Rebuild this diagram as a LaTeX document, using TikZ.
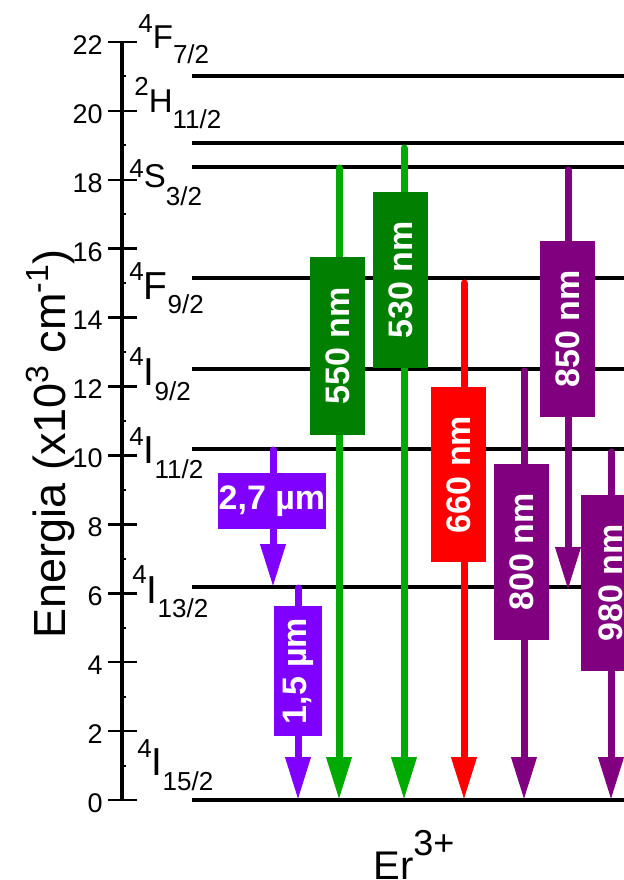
\documentclass[tikz,border=0pt]{standalone}
\usepackage{fontspec}
\setmainfont{Liberation Sans}
\usetikzlibrary{arrows.meta}
\definecolor{violetc}{HTML}{8000FF}
\definecolor{greenl}{HTML}{00AA00}
\definecolor{greenb}{HTML}{007F00}
\definecolor{redc}{HTML}{FF0000}
\definecolor{purplec}{HTML}{800080}
\newcommand{\fs}[1]{\fontsize{#1}{#1}\selectfont}
% sup size, main size, sub size, raise, lower, sup, letter, sub
\newcommand{\lvl}[8]{{\fs{#1}\raisebox{#4}{#6}}{\fs{#2}#7}{\fs{#3}\raisebox{-#5}{#8}}}
\begin{document}
\begin{tikzpicture}[x=0.5pt,y=-0.5pt,
  levelline/.style={line width=1.6pt},
  tickmaj/.style={line width=1.3pt},
  tickmin/.style={line width=1pt},
  ticklab/.style={anchor=east,inner sep=0pt,font=\fs{13.5}},
  lvlab/.style={anchor=base west,inner sep=0pt},
  arr/.style={line width=3.5pt,line cap=round,-{Triangle[length=21.5pt,width=12pt]}},
  lbox/.style={rectangle,inner sep=0pt,text=white,font=\fs{17}\bfseries},
  vbox/.style={lbox,rotate=90,minimum height=27.5pt}
]
\clip (0,0) rectangle (624,880);
\useasboundingbox (0,0) rectangle (624,880);

% axis
\coordinate (axtop) at (122,42);
\coordinate (axbot) at (122,800);
\draw[line width=1.7pt] (axtop) -- (axbot);
\foreach \v in {0,2,...,22} {
  \pgfmathsetmacro\yy{800-\v*34.4545}
  \draw[tickmaj] (108,\yy) -- (137,\yy);
  \node[ticklab] (t\v) at (103,\yy+3) {\v};
}
\foreach \v in {1,3,...,21} {
  \pgfmathsetmacro\yy{800-\v*34.4545}
  \draw[tickmin] (122,\yy) -- (126,\yy);
}

% axis title
\node[rotate=90,anchor=base,inner sep=0pt,font=\fs{22.5}] (ytitle) at (65,444)
  {Energia (x10{\fs{16}\raisebox{8.5pt}{3}} cm{\fs{16}\raisebox{8.5pt}{-1}})};

% levels
\foreach \yy in {76,143,167,278,369,449,587,800} {
  \draw[levelline] (192,\yy) -- (630,\yy);
}

% level labels
\node[lvlab] (l1) at (138,48)  {\lvl{13}{16.5}{13}{8pt}{7.5pt}{4}{F}{7/2}};
\node[lvlab] (l2) at (134,112) {\lvl{13}{16.5}{13}{8.5pt}{8pt}{2}{H}{11/2}};
\node[lvlab] (l3) at (129,187) {\lvl{13}{16.5}{13}{5pt}{9pt}{4}{S}{3/2}};
\node[lvlab] (l4) at (129,299) {\lvl{13}{19.5}{13}{9.5pt}{7pt}{4}{F}{9/2}};
\node[lvlab] (l5) at (129,385) {\lvl{13}{19.5}{13}{10pt}{7.5pt}{4}{I}{9/2}};
\node[lvlab] (l6) at (129,463) {\lvl{13}{19.5}{13}{9pt}{7.5pt}{4}{I}{11/2}};
\node[lvlab] (l7) at (132,603) {\lvl{13}{19.5}{13}{10pt}{7pt}{4}{I}{13/2}};
\node[lvlab] (l8) at (137,775) {\lvl{13}{19.5}{13}{9pt}{7.5pt}{4}{I}{15/2}};

% arrow end points
\coordinate (s27) at (273,450); \coordinate (e27) at (273,587);
\coordinate (s15) at (298,588); \coordinate (e15) at (298,800);
\coordinate (s550) at (339,168); \coordinate (e550) at (339,800);
\coordinate (s530) at (404,148); \coordinate (e530) at (404,800);
\coordinate (s660) at (464,283); \coordinate (e660) at (464,800);
\coordinate (s800) at (524,371); \coordinate (e800) at (524,800);
\coordinate (s850) at (568,170); \coordinate (e850) at (568,590);
\coordinate (s980) at (611,452); \coordinate (e980) at (611,800);

% arrows
\draw[arr,violetc] (s27) -- (e27);
\draw[arr,violetc] (s15) -- (e15);
\draw[arr,greenl] (s550) -- (e550);
\draw[arr,greenl] (s530) -- (e530);
\draw[arr,redc] (s660) -- (e660);
\draw[arr,purplec] (s800) -- (e800);
\draw[arr,purplec] (s850) -- (e850);
\draw[arr,purplec] (s980) -- (e980);

% label boxes
\node[lbox,fill=violetc,minimum width=54pt,minimum height=28pt] (b27) at (272,501) {2,7 µm};
\node[vbox,fill=violetc,minimum width=65pt,minimum height=24pt] (b15) at (298,671) {1,5 µm};
\node[vbox,fill=greenb,minimum width=89pt] (b550) at (337.5,346) {550 nm};
\node[vbox,fill=greenb,minimum width=88pt] (b530) at (400.5,280) {530 nm};
\node[vbox,fill=redc,minimum width=87.5pt] (b660) at (458.5,474.5) {660 nm};
\node[vbox,fill=purplec,minimum width=88pt] (b800) at (521.5,552) {800 nm};
\node[vbox,fill=purplec,minimum width=88pt] (b850) at (567.5,329) {850 nm};
\node[vbox,fill=purplec,minimum width=88pt,minimum height=30pt] (b980) at (611,583) {980 nm};

% ion label
\node[anchor=base west,inner sep=0pt] (ion) at (373,879)
  {{\fs{20}Er}{\fs{18}\raisebox{12pt}{3+}}};
\end{tikzpicture}
\end{document}
